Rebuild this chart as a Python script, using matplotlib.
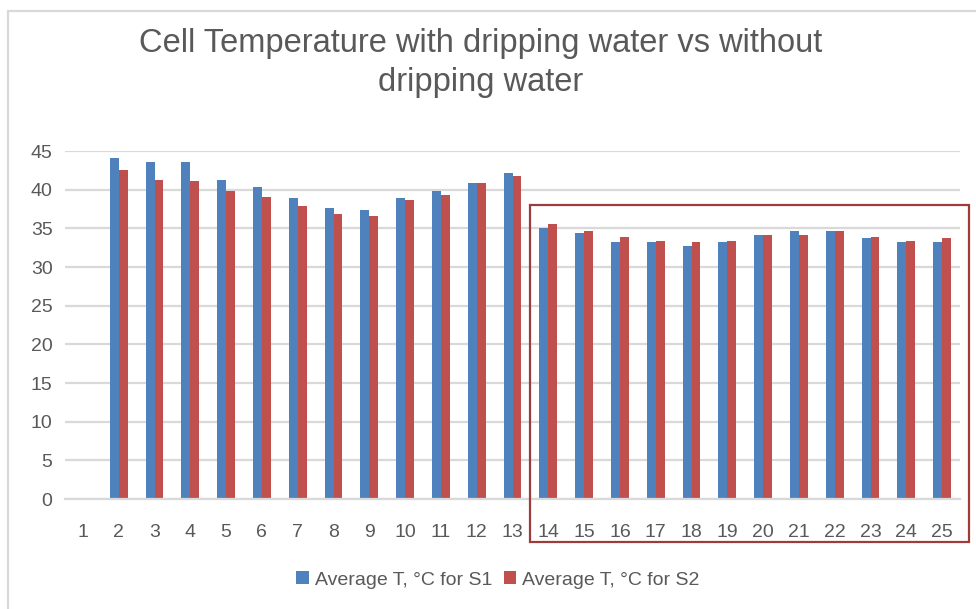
import matplotlib.pyplot as plt
import numpy as np
from matplotlib.patches import Rectangle

# cell temperature per measurement, °C
measurements = [str(i) for i in range(1, 26)]
temp_s1 = [np.nan, 44.1, 43.6, 43.6, 41.3, 40.3, 38.9, 37.6, 37.4, 38.9, 39.8, 40.8, 42.1,
           35.1, 34.4, 33.2, 33.2, 32.7, 33.2, 34.1, 34.7, 34.7, 33.7, 33.2, 33.2]
temp_s2 = [np.nan, 42.6, 41.3, 41.1, 39.8, 39.1, 37.9, 36.9, 36.6, 38.6, 39.3, 40.8, 41.8,
           35.6, 34.7, 33.9, 33.4, 33.2, 33.4, 34.1, 34.1, 34.7, 33.9, 33.4, 33.7]
series_labels = ["Average T, °C for S1", "Average T, °C for S2"]
y_ticks = [0, 5, 10, 15, 20, 25, 30, 35, 40, 45]

BLUE = "#4F81BD"
RED = "#C0504D"
TEXT = "#595959"
GRID = "#D9D9D9"

plt.rcParams["font.family"] = ["Liberation Sans", "DejaVu Sans"]

W, H = 976, 609
fig = plt.figure(figsize=(W / 100, H / 100), dpi=100)

# chart area frame
fig.add_artist(Rectangle((8 / W, -0.01), 1.0, (H - 11) / H + 0.01, transform=fig.transFigure,
                         fill=False, edgecolor="#D9D9D9", lw=1.6))

ax = fig.add_axes([65 / W, (H - 499) / H, (960 - 65) / W, (499 - 151) / H])

x = np.arange(len(measurements))
width = 0.25
ax.bar(x - width / 2, temp_s1, width, color=BLUE, label=series_labels[0])
ax.bar(x + width / 2, temp_s2, width, color=RED, label=series_labels[1])

ax.set_xlim(-0.5, len(measurements) - 0.5)
ax.set_ylim(0, 45)
ax.set_yticks(y_ticks)
ax.set_xticks(x)
ax.set_xticklabels(measurements)
ax.yaxis.grid(True, color=GRID, lw=1.6)
ax.set_axisbelow(True)
for side in ["top", "right", "left"]:
    ax.spines[side].set_visible(False)
ax.spines["bottom"].set_color(GRID)
ax.spines["bottom"].set_linewidth(1.6)
ax.tick_params(axis="both", length=0, labelsize=14, labelcolor=TEXT)
ax.tick_params(axis="y", pad=9)
ax.tick_params(axis="x", pad=18)

fig.text(481 / W, 1 - 63 / H, "Cell Temperature with dripping water vs without\ndripping water",
         ha="center", va="center", fontsize=23.5, color=TEXT, linespacing=1.3)

# highlight box around the later measurements
fig.add_artist(Rectangle((530 / W, 1 - 542 / H), (969 - 530) / W, (542 - 205) / H,
                         transform=fig.transFigure, fill=False, edgecolor="#9E3B3B", lw=1.6))

fig.legend(loc="center", bbox_to_anchor=(498 / W, 1 - 580 / H), ncol=2, frameon=False,
           fontsize=14, labelcolor=TEXT, handlelength=0.65, handleheight=0.65,
           handletextpad=0.3, columnspacing=0.6)

fig.savefig("out.png", dpi=100)
